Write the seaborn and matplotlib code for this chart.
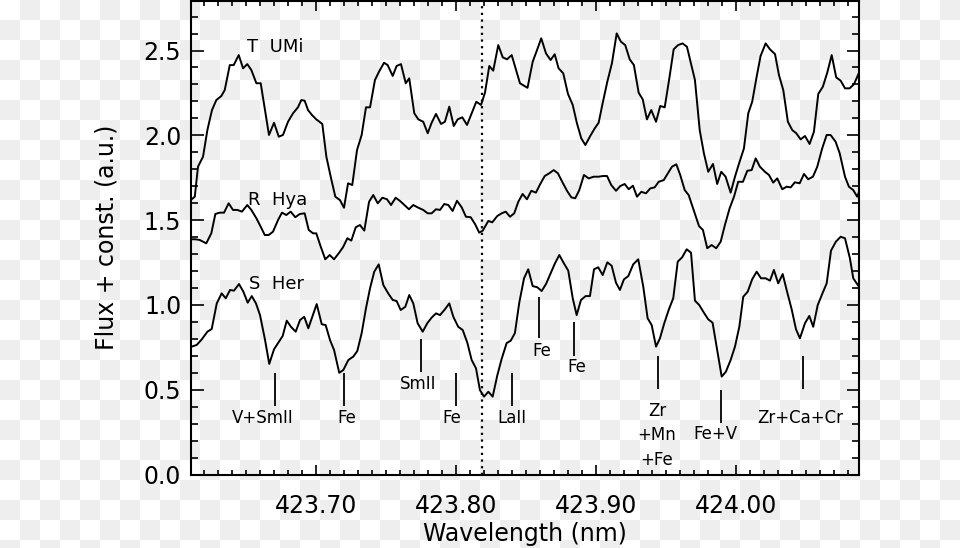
import numpy as np
import pandas as pd
import matplotlib
matplotlib.use("Agg")
import matplotlib.pyplot as plt
from matplotlib.ticker import MultipleLocator, FormatStrFormatter
import seaborn as sns

# ---------------- data ----------------
tumi_wl = [423.6105, 423.6134, 423.6157, 423.6193, 423.6224, 423.6257, 423.6288, 423.6324, 423.6348, 423.6384,
           423.6412, 423.6448, 423.6479, 423.6509, 423.6538, 423.6574, 423.6605, 423.6664, 423.6700, 423.6734,
           423.6764, 423.6800, 423.6836, 423.6871, 423.6895, 423.6919, 423.6943, 423.6971, 423.7002, 423.7045,
           423.7074, 423.7105, 423.7138, 423.7171, 423.7200, 423.7229, 423.7259, 423.7293, 423.7326, 423.7357,
           423.7386, 423.7421, 423.7450, 423.7486, 423.7512, 423.7548, 423.7576, 423.7607, 423.7641, 423.7666,
           423.7702, 423.7731, 423.7766, 423.7798, 423.7826, 423.7857, 423.7893, 423.7921, 423.7952, 423.7984,
           423.8012, 423.8045, 423.8079, 423.8112, 423.8145, 423.8179, 423.8207, 423.8238, 423.8266, 423.8302,
           423.8334, 423.8364, 423.8398, 423.8426, 423.8457, 423.8511, 423.8548, 423.8579, 423.8609, 423.8643,
           423.8676, 423.8705, 423.8733, 423.8766, 423.8800, 423.8834, 423.8864, 423.8895, 423.8924, 423.8959,
           423.8991, 423.9019, 423.9050, 423.9081, 423.9114, 423.9148, 423.9178, 423.9209, 423.9241, 423.9271,
           423.9305, 423.9334, 423.9364, 423.9395, 423.9429, 423.9459, 423.9491, 423.9524, 423.9555, 423.9586,
           423.9619, 423.9650, 423.9707, 423.9741, 423.9771, 423.9802, 423.9836, 423.9866, 423.9895, 423.9926,
           423.9962, 423.9993, 424.0026, 424.0057, 424.0088, 424.0116, 424.0148, 424.0176, 424.0212, 424.0243,
           424.0279, 424.0307, 424.0338, 424.0371, 424.0402, 424.0431, 424.0462, 424.0493, 424.0526, 424.0557,
           424.0588, 424.0621, 424.0652, 424.0684, 424.0716, 424.0748, 424.0779, 424.0812, 424.0843, 424.0879]
tumi_flux = [1.618, 1.638, 1.815, 1.874, 2.031, 2.149, 2.208, 2.232, 2.267, 2.414,
             2.414, 2.473, 2.395, 2.420, 2.385, 2.307, 2.307, 2.002, 2.074, 1.992,
             2.002, 2.080, 2.130, 2.165, 2.208, 2.204, 2.149, 2.120, 2.094, 2.067,
             1.874, 1.756, 1.638, 1.618, 1.573, 1.717, 1.707, 1.913, 2.002, 2.165,
             2.165, 2.326, 2.375, 2.428, 2.414, 2.350, 2.409, 2.420, 2.307, 2.336,
             2.130, 2.094, 2.080, 2.012, 2.074, 2.126, 2.067, 2.080, 2.169, 2.055,
             2.094, 2.106, 2.061, 2.130, 2.198, 2.179, 2.251, 2.409, 2.381, 2.532,
             2.460, 2.448, 2.473, 2.395, 2.307, 2.280, 2.434, 2.503, 2.572, 2.483,
             2.444, 2.478, 2.395, 2.366, 2.244, 2.179, 2.071, 1.982, 1.943, 1.996,
             2.041, 2.074, 2.198, 2.316, 2.425, 2.601, 2.552, 2.532, 2.448, 2.414,
             2.251, 2.212, 2.094, 2.149, 2.080, 2.173, 2.165, 2.336, 2.507, 2.532,
             2.542, 2.522, 2.326, 2.031, 1.894, 1.785, 1.831, 1.713, 1.785, 1.756,
             1.662, 1.756, 1.844, 1.923, 2.130, 2.198, 2.346, 2.468, 2.542, 2.507,
             2.479, 2.356, 2.267, 2.080, 2.031, 2.012, 1.976, 1.996, 1.949, 2.021,
             2.244, 2.287, 2.369, 2.473, 2.342, 2.322, 2.277, 2.277, 2.301, 2.369]

rhya_wl = [423.6105, 423.6138, 423.6169, 423.6216, 423.6252, 423.6281, 423.6312, 423.6343, 423.6376, 423.6407,
           423.6438, 423.6471, 423.6509, 423.6538, 423.6574, 423.6605, 423.6634, 423.6662, 423.6693, 423.6729,
           423.6757, 423.6788, 423.6819, 423.6852, 423.6884, 423.6919, 423.6948, 423.6979, 423.7002, 423.7034,
           423.7066, 423.7098, 423.7129, 423.7162, 423.7193, 423.7224, 423.7252, 423.7284, 423.7314, 423.7345,
           423.7379, 423.7409, 423.7441, 423.7474, 423.7507, 423.7536, 423.7569, 423.7600, 423.7631, 423.7664,
           423.7695, 423.7731, 423.7766, 423.7798, 423.7826, 423.7857, 423.7886, 423.7916, 423.7945, 423.7976,
           423.8007, 423.8041, 423.8071, 423.8105, 423.8136, 423.8166, 423.8191, 423.8231, 423.8259, 423.8295,
           423.8326, 423.8355, 423.8386, 423.8416, 423.8445, 423.8476, 423.8507, 423.8538, 423.8571, 423.8602,
           423.8634, 423.8666, 423.8698, 423.8728, 423.8762, 423.8793, 423.8824, 423.8852, 423.8881, 423.8914,
           423.8948, 423.8983, 423.9019, 423.9050, 423.9079, 423.9109, 423.9143, 423.9174, 423.9205, 423.9234,
           423.9264, 423.9293, 423.9324, 423.9357, 423.9388, 423.9419, 423.9448, 423.9484, 423.9514, 423.9543,
           423.9574, 423.9602, 423.9634, 423.9662, 423.9700, 423.9736, 423.9764, 423.9795, 423.9826, 423.9859,
           423.9891, 423.9921, 423.9955, 423.9986, 424.0016, 424.0050, 424.0081, 424.0112, 424.0141, 424.0171,
           424.0207, 424.0236, 424.0266, 424.0295, 424.0331, 424.0362, 424.0391, 424.0421, 424.0455, 424.0486,
           424.0516, 424.0550, 424.0581, 424.0616, 424.0648, 424.0676, 424.0712, 424.0741, 424.0779, 424.0807,
           424.0838, 424.0866, 424.0879]
rhya_flux = [1.387, 1.387, 1.383, 1.363, 1.422, 1.536, 1.544, 1.544, 1.599, 1.560,
             1.560, 1.550, 1.589, 1.560, 1.511, 1.461, 1.412, 1.412, 1.432, 1.501,
             1.544, 1.530, 1.550, 1.517, 1.536, 1.540, 1.442, 1.422, 1.422, 1.343,
             1.269, 1.294, 1.269, 1.304, 1.340, 1.393, 1.379, 1.458, 1.471, 1.438,
             1.608, 1.648, 1.599, 1.632, 1.623, 1.589, 1.632, 1.613, 1.589, 1.564,
             1.589, 1.573, 1.560, 1.540, 1.540, 1.564, 1.560, 1.595, 1.589, 1.554,
             1.614, 1.575, 1.520, 1.517, 1.477, 1.426, 1.438, 1.495, 1.487, 1.524,
             1.540, 1.550, 1.520, 1.540, 1.608, 1.654, 1.623, 1.673, 1.662, 1.713,
             1.760, 1.776, 1.795, 1.776, 1.721, 1.673, 1.634, 1.629, 1.677, 1.766,
             1.746, 1.756, 1.756, 1.760, 1.760, 1.707, 1.673, 1.701, 1.713, 1.682,
             1.703, 1.638, 1.667, 1.658, 1.687, 1.693, 1.726, 1.736, 1.776, 1.815,
             1.829, 1.766, 1.677, 1.648, 1.554, 1.465, 1.442, 1.334, 1.353, 1.334,
             1.373, 1.471, 1.570, 1.638, 1.726, 1.726, 1.791, 1.795, 1.864, 1.815,
             1.785, 1.766, 1.721, 1.746, 1.682, 1.697, 1.693, 1.723, 1.717, 1.772,
             1.741, 1.756, 1.815, 1.923, 2.002, 2.002, 1.962, 1.894, 1.756, 1.697,
             1.677, 1.638, 1.666]

sher_wl = [423.6112, 423.6148, 423.6184, 423.6224, 423.6255, 423.6291, 423.6326, 423.6355, 423.6386, 423.6414,
           423.6450, 423.6481, 423.6512, 423.6541, 423.6571, 423.6600, 423.6636, 423.6666, 423.6700, 423.6731,
           423.6762, 423.6791, 423.6821, 423.6855, 423.6886, 423.6916, 423.6945, 423.6976, 423.7005, 423.7041,
           423.7069, 423.7100, 423.7129, 423.7166, 423.7195, 423.7231, 423.7266, 423.7295, 423.7326, 423.7357,
           423.7386, 423.7416, 423.7448, 423.7481, 423.7516, 423.7548, 423.7576, 423.7605, 423.7638, 423.7666,
           423.7695, 423.7726, 423.7762, 423.7795, 423.7826, 423.7857, 423.7886, 423.7921, 423.7952, 423.7981,
           423.8016, 423.8048, 423.8081, 423.8112, 423.8143, 423.8171, 423.8200, 423.8231, 423.8262, 423.8295,
           423.8326, 423.8362, 423.8391, 423.8421, 423.8452, 423.8486, 423.8516, 423.8548, 423.8581, 423.8612,
           423.8643, 423.8676, 423.8707, 423.8738, 423.8771, 423.8802, 423.8834, 423.8862, 423.8893, 423.8926,
           423.8957, 423.8986, 423.9016, 423.9048, 423.9081, 423.9112, 423.9143, 423.9171, 423.9200, 423.9231,
           423.9266, 423.9302, 423.9338, 423.9369, 423.9398, 423.9429, 423.9457, 423.9488, 423.9521, 423.9552,
           423.9584, 423.9616, 423.9648, 423.9679, 423.9707, 423.9738, 423.9771, 423.9802, 423.9833, 423.9866,
           423.9898, 423.9928, 423.9962, 423.9993, 424.0024, 424.0052, 424.0084, 424.0116, 424.0148, 424.0179,
           424.0212, 424.0243, 424.0271, 424.0302, 424.0334, 424.0362, 424.0398, 424.0429, 424.0457, 424.0493,
           424.0524, 424.0552, 424.0584, 424.0616, 424.0648, 424.0679, 424.0714, 424.0748, 424.0779, 424.0814,
           424.0838, 424.0879]
sher_flux = [0.754, 0.764, 0.797, 0.842, 0.858, 1.009, 1.068, 1.039, 1.088, 1.084,
             1.123, 1.078, 1.013, 1.052, 1.009, 0.940, 0.793, 0.652, 0.738, 0.777,
             0.817, 0.907, 0.871, 0.842, 0.911, 0.930, 0.862, 0.935, 1.005, 0.886,
             0.881, 0.793, 0.734, 0.600, 0.616, 0.675, 0.695, 0.728, 0.833, 0.980,
             1.098, 1.196, 1.239, 1.117, 1.068, 1.029, 1.023, 0.970, 0.989, 1.058,
             1.009, 0.892, 0.842, 0.892, 0.925, 0.950, 0.940, 0.974, 1.009, 0.930,
             0.871, 0.852, 0.777, 0.675, 0.626, 0.498, 0.459, 0.488, 0.459, 0.584,
             0.681, 0.775, 0.789, 0.834, 1.013, 1.157, 1.210, 1.111, 1.104, 1.082,
             1.123, 1.186, 1.245, 1.294, 1.245, 1.202, 1.039, 0.940, 1.029, 1.052,
             1.052, 1.210, 1.222, 1.176, 1.251, 1.231, 1.131, 1.088, 1.151, 1.170,
             1.239, 1.269, 1.107, 0.921, 0.881, 0.754, 0.803, 0.892, 0.974, 1.039,
             1.255, 1.281, 1.328, 1.308, 1.025, 0.999, 0.954, 0.915, 0.895, 0.734,
             0.577, 0.606, 0.675, 0.754, 0.871, 1.048, 1.078, 1.151, 1.196, 1.157,
             1.157, 1.143, 1.206, 1.127, 1.182, 1.088, 0.974, 0.856, 0.803, 0.892,
             0.935, 0.871, 0.999, 1.064, 1.127, 1.320, 1.373, 1.402, 1.393, 1.275,
             1.157, 1.107]

star_names = ["T  UMi", "R  Hya", "S  Her"]
star_label_x = [423.6707, 423.6725, 423.6721]
star_label_y = [2.491, 1.590, 1.092]

line_ids = ["V+SmII", "Fe", "SmII", "Fe", "LaII", "Fe", "Fe", "Zr\n+Mn\n+Fe", "Fe+V", "Zr+Ca+Cr"]
line_x = [423.6707, 423.7200, 423.7750, 423.8000, 423.8400, 423.8593, 423.8843, 423.9443, 423.9893, 424.0479]
line_top = [0.598, 0.598, 0.799, 0.598, 0.598, 1.047, 0.899, 0.699, 0.498, 0.699]
line_bottom = [0.404, 0.404, 0.604, 0.404, 0.404, 0.805, 0.699, 0.504, 0.304, 0.504]
line_text_x = [423.6621, 423.7221, 423.7729, 423.7971, 423.8400, 423.8614, 423.8864, 423.9436, 423.9850, 424.0457]
line_text_y = [0.333, 0.333, 0.534, 0.333, 0.333, 0.728, 0.634, 0.427, 0.239, 0.333]

marker_wl = 423.8186

x_ticks = [423.70, 423.80, 423.90, 424.00]
x_limits = (423.6107, 424.0879)
y_limits = (0.0, 2.792)

# ---------------- figure ----------------
sns.set_style("ticks")
plt.rcParams["font.family"] = ["DejaVu Sans"]
plt.rcParams["text.color"] = "black"
plt.rcParams["axes.labelcolor"] = "black"
plt.rcParams["xtick.color"] = "black"
plt.rcParams["ytick.color"] = "black"

W, H, DPI = 960, 548, 100
fig = plt.figure(figsize=(W / DPI, H / DPI), dpi=DPI)
fig.patch.set_alpha(0)

# checkerboard background (as seen in the reference)
rows, cols = np.indices((H, W))
cell = ((rows // 20) + (cols // 20)) % 2
gray = np.array([0.937, 0.937, 0.937])
white = np.array([1.0, 1.0, 1.0])
bg = np.where(cell[..., None] == 1, gray, white)
fig.figimage(bg, xo=0, yo=0, origin="upper", zorder=0)

ax = fig.add_axes([191 / W, (H - 474.5) / H, 668 / W, 473.5 / H])
ax.set_zorder(1)
ax.set_facecolor("none")

df = pd.concat([
    pd.DataFrame({"wavelength": tumi_wl, "flux": tumi_flux, "star": "T UMi"}),
    pd.DataFrame({"wavelength": rhya_wl, "flux": rhya_flux, "star": "R Hya"}),
    pd.DataFrame({"wavelength": sher_wl, "flux": sher_flux, "star": "S Her"}),
], ignore_index=True)

sns.lineplot(data=df, x="wavelength", y="flux", hue="star",
             palette={"T UMi": "black", "R Hya": "black", "S Her": "black"},
             estimator=None, sort=False, legend=False, linewidth=1.4, ax=ax)

ax.axvline(marker_wl, color="black", linestyle=(0, (1, 2)), linewidth=1.6)

for name, tx, ty in zip(star_names, star_label_x, star_label_y):
    ax.text(tx, ty, name, ha="center", va="baseline", fontsize=13, color="black")

ax.vlines(line_x, line_bottom, line_top, color="black", linewidth=1.3)
for lab, tx, ty in zip(line_ids, line_text_x, line_text_y):
    ax.text(tx, ty, lab, ha="center", va="top" if "\n" in lab else "center",
            fontsize=12, color="black", linespacing=1.45)

ax.set_xlim(*x_limits)
ax.set_ylim(*y_limits)
ax.set_xticks(x_ticks)
ax.xaxis.set_major_formatter(FormatStrFormatter("%.2f"))
ax.xaxis.set_minor_locator(MultipleLocator(0.01))
ax.yaxis.set_major_locator(MultipleLocator(0.5))
ax.yaxis.set_minor_locator(MultipleLocator(0.1))
ax.yaxis.set_major_formatter(FormatStrFormatter("%.1f"))

ax.tick_params(which="both", direction="in", top=True, right=True, width=1.2, colors="black")
ax.tick_params(axis="x", which="major", length=7, labelsize=17, pad=14)
ax.tick_params(axis="x", which="minor", length=3.5)
ax.tick_params(axis="y", which="major", length=9, labelsize=17, pad=7)
ax.tick_params(axis="y", which="minor", length=5)
for sp in ax.spines.values():
    sp.set_linewidth(1.5)
    sp.set_color("black")

ax.set_xlabel("Wavelength (nm)", fontsize=17, color="black")
ax.set_ylabel("Flux + const. (a.u.)", fontsize=17, color="black")
ax.xaxis.set_label_coords(0.5, -0.100)
ax.yaxis.set_label_coords(-0.108, 0.5)

fig.savefig("out.png", dpi=DPI)
